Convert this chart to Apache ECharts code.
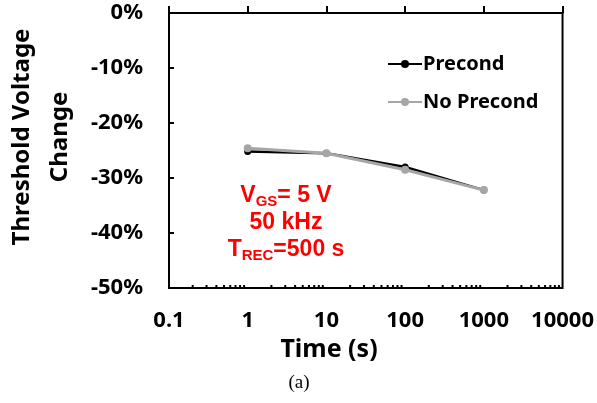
<!DOCTYPE html>
<html>
<head>
<meta charset="utf-8">
<script src="https://cdn.jsdelivr.net/npm/echarts@6/dist/echarts.min.js"></script>
<style>
  html, body { margin: 0; padding: 0; background: #fff; }
  #chart { width: 597px; height: 403px; }
</style>
</head>
<body>
<div id="chart"></div>
<script>
// data
var times = [1, 10, 100, 1000];
var precond = [-25.2, -25.5, -28.0, -32.2];
var noPrecond = [-24.6, -25.5, -28.5, -32.2];
var decades = [0.1, 1, 10, 100, 1000];

// minor tick positions of the log axis (2..9 in each decade)
var minorTicks = [];
decades.forEach(function (d) {
  for (var k = 2; k <= 9; k++) minorTicks.push([k * d, -50]);
});

var lbl = { fontFamily: 'Noto Sans', fontWeight: 'bold', fontSize: 22, color: '#000' };

var chart = echarts.init(document.getElementById('chart'));
chart.setOption({
  animation: false,
  grid: {
    left: 169, right: 32, top: 13, bottom: 115,
    show: true, borderColor: '#000', borderWidth: 2
  },
  legend: {
    orient: 'vertical',
    left: 382, top: 49,
    itemWidth: 34, itemHeight: 10, itemGap: 18,
    data: ['Precond', 'No Precond'],
    textStyle: { fontFamily: 'Noto Sans', fontWeight: 'bold', fontSize: 20, color: '#000', padding: [0, 0, 0, -4] }
  },
  xAxis: {
    type: 'log', logBase: 10, min: 0.1, max: 10000,
    axisLine: { lineStyle: { color: '#000', width: 2 } },
    axisTick: { inside: true, length: 7, lineStyle: { color: '#000', width: 2 } },
    axisLabel: Object.assign({ margin: 22, formatter: function (v) { return String(+v.toPrecision(3)); } }, lbl),
    splitLine: { show: false }
  },
  yAxis: {
    type: 'value', min: -50, max: 0, interval: 10,
    axisLine: { lineStyle: { color: '#000', width: 2 } },
    axisTick: { inside: true, length: 5, lineStyle: { color: '#000', width: 2 } },
    axisLabel: Object.assign({ margin: 26, formatter: '{value}%' }, lbl),
    splitLine: { show: false }
  },
  series: [
    {
      name: 'Precond', type: 'line',
      data: times.map(function (t, i) { return [t, precond[i]]; }),
      symbol: 'circle', symbolSize: 7,
      lineStyle: { color: '#000', width: 2.5 },
      itemStyle: { color: '#000' }
    },
    {
      name: 'No Precond', type: 'line',
      data: times.map(function (t, i) { return [t, noPrecond[i]]; }),
      symbol: 'circle', symbolSize: 8,
      lineStyle: { color: '#a6a6a6', width: 3 },
      itemStyle: { color: '#a6a6a6' }
    },
    {
      type: 'custom', silent: true,
      data: minorTicks,
      renderItem: function (params, api) {
        var p = api.coord([api.value(0), api.value(1)]);
        return {
          type: 'line',
          shape: { x1: p[0], y1: p[1], x2: p[0], y2: p[1] - 3 },
          style: { stroke: '#000', lineWidth: 2 }
        };
      }
    }
  ],
  graphic: [
    {
      type: 'text', x: 41, y: 137, rotation: Math.PI / 2,
      style: {
        text: 'Threshold Voltage\nChange',
        fontFamily: 'Noto Sans', fontWeight: 'bold', fontSize: 24, fill: '#000',
        lineHeight: 38, align: 'center', verticalAlign: 'middle'
      }
    },
    {
      type: 'text', x: 329, y: 350,
      style: {
        text: 'Time (s)',
        fontFamily: 'Noto Sans', fontWeight: 'bold', fontSize: 25, fill: '#000',
        align: 'center', verticalAlign: 'middle'
      }
    },
    {
      type: 'text', x: 286, y: 223,
      style: {
        text: 'V{sub|GS}= 5 V\n50 kHz\nT{sub|REC}=500 s',
        rich: { sub: { fontFamily: 'Liberation Sans', fontWeight: 'bold', fontSize: 15, fill: '#ff0000', verticalAlign: 'bottom', padding: [7, 0, 0, 0] } },
        fontFamily: 'Liberation Sans', fontWeight: 'bold', fontSize: 23, fill: '#ff0000',
        lineHeight: 27, align: 'center', verticalAlign: 'middle'
      }
    },
    {
      type: 'text', x: 299, y: 383,
      style: {
        text: '(a)', fontFamily: 'Liberation Serif', fontSize: 19, fill: '#000',
        align: 'center', verticalAlign: 'middle'
      }
    }
  ]
});
</script>
</body>
</html>
